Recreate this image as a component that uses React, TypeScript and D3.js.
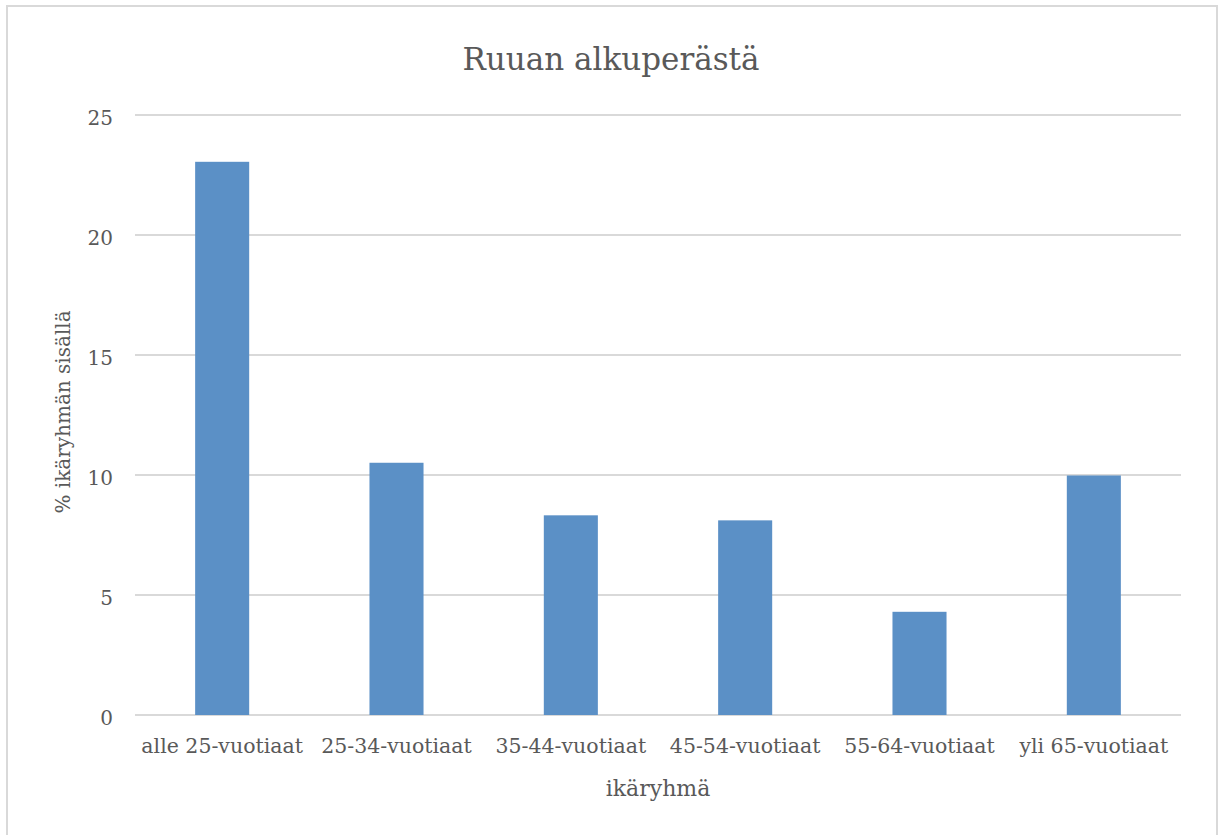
import React from "react";
import * as d3 from "d3";

const categories = [
  "alle 25-vuotiaat",
  "25-34-vuotiaat",
  "35-44-vuotiaat",
  "45-54-vuotiaat",
  "55-64-vuotiaat",
  "yli 65-vuotiaat",
];
const values = [23.05, 10.51, 8.32, 8.11, 4.3, 9.98];
const yTicks = [0, 5, 10, 15, 20, 25];
const title = "Ruuan alkuperästä";
const xTitle = "ikäryhmä";
const yTitle = "% ikäryhmän sisällä";

const W = 1226;
const H = 835;
const plot = { left: 135, right: 1181, top: 115, bottom: 715 };
const FONT = "'DejaVu Serif', serif";
const TEXT = "#595959";
const GRID = "#d9d9d9";
const BAR = "#5b90c6";

export default function App() {
  const x = d3
    .scaleBand<string>()
    .domain(categories)
    .range([plot.left, plot.right])
    .paddingInner(0.69)
    .paddingOuter(0.345);
  const y = d3.scaleLinear().domain([0, 25]).range([plot.bottom, plot.top]);

  return (
    <svg
      width={W}
      height={H}
      style={{ position: "absolute", left: 0, top: 0, background: "#fff" }}
      fontFamily={FONT}
    >
      <rect x={0} y={0} width={W} height={H} fill="#fff" />
      <rect x={7} y={6} width={1210} height={H} fill="none" stroke={GRID} strokeWidth={2} />
      <text x={611} y={70} textAnchor="middle" fontSize={31} fill={TEXT}>
        {title}
      </text>
      {yTicks.map((t) => (
        <g key={t}>
          <line x1={plot.left} x2={plot.right} y1={y(t)} y2={y(t)} stroke={GRID} strokeWidth={2} />
          <text x={113} y={y(t) + 10} textAnchor="end" fontSize={20} fill={TEXT}>
            {t}
          </text>
        </g>
      ))}
      {categories.map((c, i) => (
        <rect
          key={c}
          x={x(c)!}
          y={y(values[i])}
          width={x.bandwidth()}
          height={y(0) - y(values[i])}
          fill={BAR}
        />
      ))}
      {categories.map((c) => (
        <text
          key={c}
          x={x(c)! + x.bandwidth() / 2}
          y={753}
          textAnchor="middle"
          fontSize={20.5}
          fill={TEXT}
        >
          {c}
        </text>
      ))}
      <text x={658} y={796} textAnchor="middle" fontSize={22} fill={TEXT}>
        {xTitle}
      </text>
      <text
        transform={`translate(70,412) rotate(-90)`}
        textAnchor="middle"
        fontSize={20}
        fill={TEXT}
      >
        {yTitle}
      </text>
    </svg>
  );
}
